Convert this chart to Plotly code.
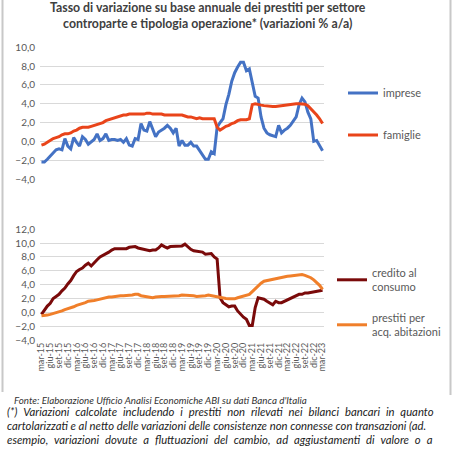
import plotly.graph_objects as go

# ---------------- data ----------------
MONTHS_IT = ["gen", "feb", "mar", "apr", "mag", "giu", "lug", "ago", "set", "ott", "nov", "dic"]
periods = []
y, m = 2015, 2
while (y, m) <= (2023, 2):
    periods.append(f"{MONTHS_IT[m]}-{str(y)[2:]}")
    m += 1
    if m == 12:
        m = 0
        y += 1

imprese = [-2.2, -2.2, -1.9, -1.6, -1.2, -0.9, -0.8, -0.9, 0.3, -0.5, -0.8, 0.4, -0.1, -0.5, 0.5, 0.2,
           -0.3, 0.0, 0.2, 0.8, 0.1, 0.3, 0.8, 0.1, 0.2, 0.2, 0.1, 0.2, -0.1, 0.3, -0.4, -0.5,
           0.3, 0.2, 1.9, 1.2, 1.1, 2.1, 1.2, 0.5, 1.0, 1.2, 1.4, 1.7, 1.4, 0.9, 1.4, -0.5,
           0.1, -0.4, -0.4, -0.1, -0.5, -0.5, -1.0, -1.5, -1.9, -1.9, -1.1, -1.3, 1.5, 2.0,
           2.4, 3.9, 5.0, 6.4, 7.3, 7.9, 8.4, 8.4, 7.5, 7.7, 6.2, 4.8, 4.6, 2.6, 1.4, 0.9,
           0.7, 0.6, 0.5, 1.7, 0.9, 1.2, 1.4, 1.7, 2.2, 2.6, 3.9, 4.6, 4.2, 3.1, 2.4, 0.0,
           0.1, -0.5, -1.0]
famiglie = [-0.4, -0.3, -0.1, 0.1, 0.3, 0.4, 0.5, 0.7, 0.8, 0.8, 0.9, 1.1, 1.2, 1.4, 1.5, 1.5,
            1.5, 1.6, 1.7, 1.8, 1.9, 2.0, 2.2, 2.3, 2.4, 2.5, 2.6, 2.7, 2.8, 2.8, 2.9, 2.9,
            2.9, 2.9, 2.9, 2.9, 3.0, 3.0, 2.9, 2.9, 2.9, 2.9, 2.8, 2.8, 2.8, 2.8, 2.8, 2.8,
            2.8, 2.7, 2.6, 2.6, 2.5, 2.4, 2.5, 2.4, 2.4, 2.4, 2.4, 2.4, 1.5, 1.2,
            1.4, 1.6, 1.7, 1.9, 2.0, 2.2, 2.3, 2.3, 2.3, 2.4, 3.9, 4.0, 3.9, 3.85, 3.8, 3.75,
            3.7, 3.7, 3.7, 3.75, 3.8, 3.85, 3.9, 3.9, 4.0, 4.0, 4.0, 4.0, 3.95, 3.8, 3.5, 3.1,
            2.8, 2.4, 1.9]
credito_consumo = [-0.3, 0.3, 0.9, 1.3, 2.0, 2.3, 2.6, 3.1, 3.5, 4.1, 4.6, 5.3, 5.9, 6.2, 6.4, 6.8,
                   7.1, 6.7, 7.2, 7.6, 8.0, 8.2, 8.4, 8.7, 9.0, 9.2, 9.2, 9.2, 9.2, 9.2, 9.4, 9.4,
                   9.5, 9.3, 9.2, 9.1, 9.0, 8.9, 9.0, 9.0, 9.3, 9.75, 9.5, 9.3, 9.5, 9.5, 9.5, 9.6,
                   9.6, 9.85, 9.4, 9.1, 8.9, 8.8, 8.7, 8.7, 8.4, 8.5, 8.5, 8.0, 7.7, 2.1,
                   1.4, 1.1, 0.8, 0.9, 0.9, 0.2, -0.3, -0.7, -1.0, -1.9, -1.9, 0.7, 2.1, 2.0, 1.9, 1.6,
                   1.4, 1.1, 1.6, 1.4, 1.4, 1.6, 1.7, 2.0, 2.2, 2.4, 2.6, 2.6, 2.8, 2.8, 2.9, 3.0,
                   3.1, 3.2, 3.2]
prestiti_abitazioni = [-0.5, -0.5, -0.4, -0.3, -0.2, -0.1, 0.1, 0.2, 0.4, 0.5, 0.7, 0.8, 1.0, 1.1, 1.3, 1.4,
                       1.6, 1.6, 1.7, 1.8, 1.9, 2.0, 2.2, 2.2, 2.2, 2.3, 2.3, 2.4, 2.4, 2.4, 2.5, 2.5,
                       2.6, 2.6, 2.4, 2.3, 2.25, 2.2, 2.1, 2.2, 2.3, 2.3, 2.3, 2.3, 2.3, 2.3, 2.4, 2.4,
                       2.5, 2.5, 2.5, 2.4, 2.4, 2.3, 2.3, 2.4, 2.4, 2.5, 2.4, 2.4, 2.3, 2.2,
                       2.05, 2.0, 1.95, 1.95, 1.95, 2.1, 2.2, 2.3, 2.4, 2.6, 3.0, 3.4, 3.9, 4.2, 4.5, 4.6,
                       4.7, 4.8, 4.9, 4.95, 5.0, 5.1, 5.2, 5.25, 5.3, 5.35, 5.4, 5.45, 5.35, 5.2, 5.0, 4.7,
                       4.3, 3.9, 3.3]

tick_labels = periods[::3]
top_yticks = [-4, -2, 0, 2, 4, 6, 8, 10]
bot_yticks = [-4, -2, 0, 2, 4, 6, 8, 10, 12]

title_text = ("Tasso di variazione su base annuale dei prestiti per settore<br>"
              "controparte e tipologia operazione* (variazioni % a/a)")
source_text = "Fonte: Elaborazione Ufficio Analisi Economiche ABI su dati Banca d'Italia"
note_lines = [
    "(*) Variazioni calcolate includendo i prestiti non rilevati nei bilanci bancari in quanto",
    "cartolarizzati e al netto delle variazioni delle consistenze non connesse con transazioni (ad.",
    "esempio, variazioni dovute a fluttuazioni del cambio, ad aggiustamenti di valore o a",
]
note_extra_gap = ["\u2009\u2009\u200a", "", "\u2009\u2009\u200a"]  # extra spacing per gap (justified text)

# ---------------- figure ----------------
W = H = 456
def px(x):
    return x / W
def py(y):
    return 1 - y / H

FONT = "Lato"
fig = go.Figure()

fig.add_trace(go.Scatter(x=periods, y=imprese, name="imprese", mode="lines",
                         line=dict(color="#4472C4", width=3), xaxis="x", yaxis="y", legend="legend"))
fig.add_trace(go.Scatter(x=periods, y=famiglie, name="famiglie", mode="lines",
                         line=dict(color="#E9441A", width=3), xaxis="x", yaxis="y", legend="legend2"))
fig.add_trace(go.Scatter(x=periods, y=credito_consumo, name="credito al<br>consumo", mode="lines",
                         line=dict(color="#7A0A0A", width=3), xaxis="x2", yaxis="y2", legend="legend3"))
fig.add_trace(go.Scatter(x=periods, y=prestiti_abitazioni, name="prestiti per<br>acq. abitazioni", mode="lines",
                         line=dict(color="#F07F2A", width=3), xaxis="x2", yaxis="y2", legend="legend4"))

xdom = [px(40), px(324)]
grid = "#D9D9D9"
tickfont = dict(family=FONT, size=10, color="#595959")
BOT_TOP, BOT_BOTTOM = 229.3, 340.0
bot_range = [-4, 12]
zero_px = BOT_BOTTOM - (0 - bot_range[0]) / (bot_range[1] - bot_range[0]) * (BOT_BOTTOM - BOT_TOP)

def legend_at(x, y):
    return dict(x=px(x), y=py(y), xanchor="left", yanchor="middle", bgcolor="rgba(0,0,0,0)",
                font=dict(family=FONT, size=11, color="#595959"), itemwidth=30,
                tracegroupgap=0)

def justify(t, extra):
    return t.replace(" ", " " + extra) if extra else t

fig.update_layout(
    width=W, height=H,
    margin=dict(l=0, r=0, t=0, b=0, autoexpand=False),
    paper_bgcolor="white", plot_bgcolor="white",
    separators=",.",
    showlegend=True,
    xaxis=dict(domain=xdom, anchor="y", type="category", range=[-0.5, len(periods) - 0.5],
               visible=False, automargin=False),
    yaxis=dict(domain=[py(179), py(47.3)], anchor="x", range=[-4, 10], tickvals=top_yticks,
               tickformat=".1f", showgrid=True, gridcolor=grid, gridwidth=1, zeroline=False,
               showline=False, tickfont=tickfont, ticklabelstandoff=4, automargin=False),
    xaxis2=dict(domain=xdom, anchor="y2", type="category", range=[-0.5, len(periods) - 0.5],
                tickmode="array", tickvals=tick_labels, ticktext=tick_labels, tickangle=-90,
                tickfont=dict(family=FONT, size=9, color="#595959"),
                showgrid=False, showline=False, zeroline=False, ticks="", automargin=False),
    xaxis3=dict(domain=xdom, anchor="free", overlaying="x2", position=py(zero_px),
                type="category", range=[-0.5, len(periods) - 0.5], matches="x2",
                tickmode="array", tickvals=tick_labels, showticklabels=False,
                ticks="outside", ticklen=4, tickcolor="#BFBFBF", tickwidth=1,
                showline=True, linecolor="#D0D0D0", linewidth=1,
                showgrid=False, zeroline=False, automargin=False),
    yaxis2=dict(domain=[py(BOT_BOTTOM), py(BOT_TOP)], anchor="x2", range=bot_range, tickvals=bot_yticks,
                tickformat=".1f", showgrid=True, gridcolor=grid, gridwidth=1, zeroline=False,
                showline=False, tickfont=tickfont, ticklabelstandoff=4, automargin=False),
    legend=legend_at(343, 93),
    legend2=legend_at(343, 135),
    legend3=legend_at(332, 280),
    legend4=legend_at(332, 325),
    annotations=[
        dict(text=title_text, x=px(208), y=py(15), xref="paper", yref="paper", showarrow=False,
             xanchor="center", yanchor="middle", align="center",
             font=dict(family=FONT, size=12.3, color="#404040", weight="bold")),
        dict(text="<i>" + source_text + "</i>", x=px(12), y=py(400), xref="paper", yref="paper",
             showarrow=False, xanchor="left", yanchor="middle",
             font=dict(family=FONT, size=9.8, color="#333333")),
    ] + [
        dict(text="<i>" + justify(t, note_extra_gap[i]) + "</i>", x=px(5), y=py(411 + 14 * i),
             xref="paper", yref="paper",
             showarrow=False, xanchor="left", yanchor="middle",
             font=dict(family=FONT, size=11.3, color="#222222"))
        for i, t in enumerate(note_lines)
    ],
    shapes=[
        dict(type="line", xref="paper", yref="paper", x0=px(2.5), x1=px(2.5), y0=py(0), y1=py(392),
             line=dict(color="#C8C8C8", width=2)),
        dict(type="line", xref="paper", yref="paper", x0=px(450.5), x1=px(450.5), y0=py(0), y1=py(395),
             line=dict(color="#C8C8C8", width=2)),
    ],
)

# remove the browser's default page margin so the 456x456 figure fills the window exactly
fig.write_html("out.html", config={"displayModeBar": False},
               post_script="document.body.style.margin='0';document.body.style.overflow='hidden';")
